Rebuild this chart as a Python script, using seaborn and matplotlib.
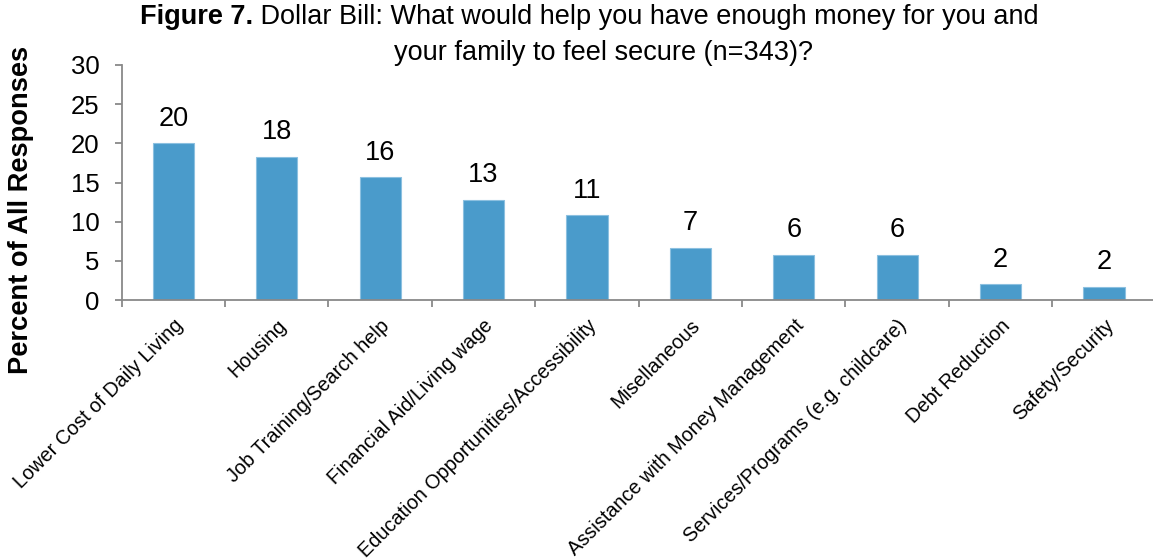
import matplotlib
matplotlib.use("Agg")
import matplotlib.pyplot as plt
import matplotlib.ticker as mticker
import seaborn as sns
import pandas as pd

# Survey categories and percent of all responses
categories = [
    "Lower Cost of Daily Living",
    "Housing",
    "Job Training/Search help",
    "Financial Aid/Living wage",
    "Education Opportunities/Accessibility",
    "Misellaneous",
    "Assistance with Money Management",
    "Services/Programs (e.g. childcare)",
    "Debt Reduction",
    "Safety/Security",
]
percents = [20.0, 18.3, 15.7, 12.8, 10.8, 6.7, 5.8, 5.8, 2.0, 1.7]
value_labels = ["20", "18", "16", "13", "11", "7", "6", "6", "2", "2"]
y_ticks = [0, 5, 10, 15, 20, 25, 30]

sns.set_theme(style="white")
plt.rcParams["font.family"] = ["Liberation Sans", "DejaVu Sans"]
plt.rcParams["text.color"] = "black"
plt.rcParams["xtick.color"] = "black"
plt.rcParams["ytick.color"] = "black"
plt.rcParams["axes.labelcolor"] = "black"

W, H = 1153, 559
fig = plt.figure(figsize=(W / 100, H / 100), dpi=100)
ax = fig.add_axes([121.7 / W, 1 - 300 / H, 1034 / W, 235 / H])

df = pd.DataFrame({"category": categories, "percent": percents})
bar_color = "#4A9BCB"
sns.barplot(data=df, x="category", y="percent", color=bar_color, saturation=1,
            width=0.4, edgecolor="#8cc0e0", linewidth=0.8, ax=ax)

ax.set_xlim(-0.5, len(categories) - 0.5)
ax.set_ylim(0, 30)
ax.set_yticks(y_ticks)
ax.set_yticklabels([str(t) for t in y_ticks], fontsize=18.5)

axis_grey = "#898989"
for side in ("top", "right"):
    ax.spines[side].set_visible(False)
for side in ("left", "bottom"):
    ax.spines[side].set_color(axis_grey)
    ax.spines[side].set_linewidth(1.3)

ax.tick_params(axis="y", which="major", direction="out", length=5, width=1.3,
               color=axis_grey, labelcolor="black", pad=11, left=True)

# Category labels sit at bar centres; tick marks sit between categories
ax.set_xticks(range(len(categories)))
ax.set_xticklabels(categories, fontsize=14.3, rotation=45, ha="right",
                   va="top", rotation_mode="anchor")
ax.tick_params(axis="x", which="major", length=0, pad=11.5, labelcolor="black")
ax.xaxis.set_minor_locator(mticker.FixedLocator(
    [i - 0.5 for i in range(len(categories) + 1)]))
ax.tick_params(axis="x", which="minor", direction="out", length=5, width=1.3,
               color=axis_grey, bottom=True)

ax.set_xlabel("")
ax.set_ylabel("Percent of All Responses", fontsize=19.6, fontweight="bold",
              color="black")
ax.yaxis.set_label_coords((34 - 121.7) / 1034, (300 - 210) / 235)

# Value labels above each bar
for i, (v, lab) in enumerate(zip(percents, value_labels)):
    ax.annotate(lab, xy=(i, v), xytext=(0, 12.5), textcoords="offset points",
                ha="center", va="baseline", fontsize=19.5, color="black")

# Two-line title, first words in bold
t1 = fig.text(140 / W, 1 - 29.5 / H, "Figure 7.", fontsize=19.5,
              fontweight="bold", ha="left", va="bottom", color="black")
ax.annotate(" Dollar Bill: What would help you have enough money for you and",
            xy=(1, 0), xycoords=t1, ha="left", va="bottom", fontsize=19.5,
            color="black", annotation_clip=False)
fig.text(603 / W, 1 - 60.5 / H, "your family to feel secure (n=343)?",
         fontsize=19.5, ha="center", va="baseline", color="black")

fig.savefig("out.png", dpi=100)
